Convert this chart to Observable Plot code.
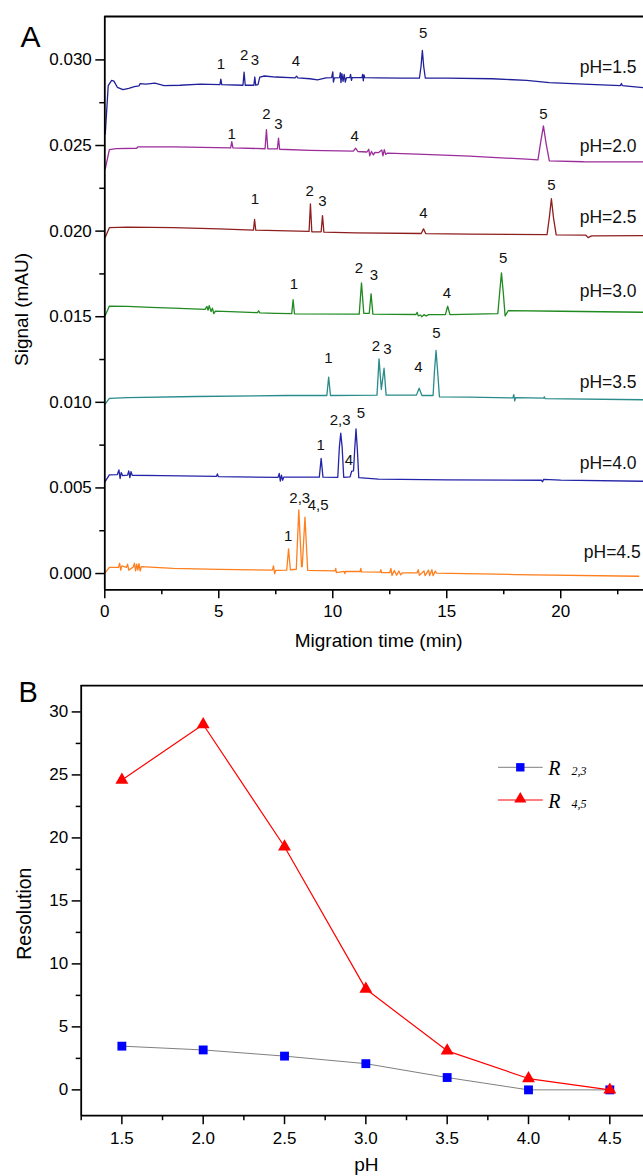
<!DOCTYPE html>
<html><head><meta charset="utf-8">
<script src="https://cdn.jsdelivr.net/npm/d3@7"></script>
<script src="https://cdn.jsdelivr.net/npm/@observablehq/plot@0.6"></script>
<style>
body{margin:0;background:#fff;}
#wrap{position:relative;width:643px;height:1176px;overflow:hidden;background:#fff;}
#wrap > svg{position:absolute;left:0;}
</style></head><body><div id="wrap"></div>
<script>
// ---------- Panel A data (migration time in min, signal in mAU) ----------
const phNames = ["pH=1.5","pH=2.0","pH=2.5","pH=3.0","pH=3.5","pH=4.0","pH=4.5"];
const traceColors = ["#20209a","#9b2d9b","#8e1f1f","#1f8a1f","#2a8b8b","#2424a8","#ff7f1e"];

const trace_pH15 = [[0.02,0.02567],[0.15,0.02850],[0.30,0.02880],[0.40,0.02876],[0.55,0.02840],[0.80,0.02826],[1.05,0.02834],[1.30,0.02844],[1.50,0.02848],[1.55,0.02862],[1.80,0.02858],[2.20,0.02864],[2.60,0.02850],[3.30,0.02852],[4.20,0.02858],[5.05,0.02856],[5.09,0.02888],[5.13,0.02856],[6.06,0.02852],[6.11,0.02928],[6.16,0.02852],[6.54,0.02852],[6.58,0.02900],[6.62,0.02852],[6.72,0.02856],[6.80,0.02900],[7.00,0.02906],[7.50,0.02900],[8.35,0.02895],[8.41,0.02905],[8.47,0.02895],[9.00,0.02890],[9.33,0.02883],[9.70,0.02895],[9.95,0.02897],[10.00,0.02930],[10.03,0.02870],[10.07,0.02895],[10.30,0.02897],[10.33,0.02925],[10.36,0.02868],[10.40,0.02920],[10.45,0.02875],[10.50,0.02915],[10.55,0.02870],[10.60,0.02897],[10.75,0.02897],[10.78,0.02915],[10.82,0.02880],[10.85,0.02897],[11.28,0.02897],[11.31,0.02915],[11.34,0.02878],[11.37,0.02912],[11.40,0.02897],[12.00,0.02895],[13.00,0.02893],[13.80,0.02893],[13.87,0.02960],[13.93,0.03055],[13.99,0.02960],[14.06,0.02893],[15.00,0.02893],[17.00,0.02890],[18.50,0.02880],[19.50,0.02867],[21.00,0.02858],[22.62,0.02850],[22.66,0.02862],[22.70,0.02850],[23.63,0.02838]];
const trace_pH20 = [[0.02,0.02364],[0.20,0.02476],[0.50,0.02482],[1.40,0.02484],[1.45,0.02492],[3.00,0.02492],[5.52,0.02486],[5.57,0.02523],[5.62,0.02486],[7.03,0.02481],[7.09,0.02592],[7.15,0.02481],[7.57,0.02480],[7.62,0.02543],[7.67,0.02478],[9.00,0.02472],[10.90,0.02467],[11.00,0.02484],[11.10,0.02465],[11.50,0.02462],[11.58,0.02478],[11.62,0.02440],[11.70,0.02465],[11.78,0.02445],[11.85,0.02460],[12.00,0.02458],[12.15,0.02474],[12.20,0.02440],[12.26,0.02476],[12.32,0.02448],[12.40,0.02456],[14.00,0.02448],[16.00,0.02438],[18.50,0.02420],[19.00,0.02416],[19.12,0.02520],[19.24,0.02615],[19.36,0.02510],[19.50,0.02410],[21.00,0.02405],[23.63,0.02404]];
const trace_pH25 = [[0.02,0.01964],[0.20,0.02020],[1.00,0.02023],[3.00,0.02020],[5.00,0.02013],[6.52,0.02006],[6.57,0.02068],[6.62,0.02006],[8.96,0.01998],[9.02,0.02159],[9.08,0.01996],[9.49,0.01996],[9.55,0.02091],[9.61,0.01994],[11.00,0.01990],[13.88,0.01986],[13.98,0.02013],[14.08,0.01985],[16.00,0.01982],[19.40,0.01980],[19.50,0.02080],[19.59,0.02189],[19.68,0.02080],[19.80,0.01978],[21.10,0.01976],[21.20,0.01962],[21.35,0.01972],[23.63,0.01974]];
const trace_pH30 = [[0.02,0.01507],[0.20,0.01562],[1.00,0.01560],[2.00,0.01555],[3.00,0.01550],[4.40,0.01543],[4.48,0.01560],[4.53,0.01538],[4.58,0.01565],[4.66,0.01530],[4.72,0.01550],[4.78,0.01518],[4.85,0.01533],[5.50,0.01530],[6.70,0.01524],[6.75,0.01535],[6.80,0.01522],[7.50,0.01520],[8.20,0.01518],[8.26,0.01599],[8.32,0.01517],[11.16,0.01515],[11.26,0.01698],[11.36,0.01520],[11.60,0.01520],[11.68,0.01634],[11.76,0.01515],[13.65,0.01513],[13.70,0.01525],[13.75,0.01505],[13.85,0.01510],[13.90,0.01500],[14.00,0.01512],[14.10,0.01504],[14.20,0.01512],[14.94,0.01512],[15.04,0.01561],[15.14,0.01512],[17.24,0.01518],[17.32,0.01640],[17.40,0.01756],[17.48,0.01640],[17.56,0.01505],[17.70,0.01536],[20.00,0.01532],[23.63,0.01526]];
const trace_pH35 = [[0.02,0.00991],[0.20,0.01023],[1.00,0.01028],[4.00,0.01034],[8.00,0.01040],[9.74,0.01040],[9.82,0.01147],[9.90,0.01040],[11.94,0.01042],[12.03,0.01254],[12.13,0.01075],[12.25,0.01199],[12.34,0.01042],[13.67,0.01042],[13.79,0.01082],[13.91,0.01040],[14.40,0.01040],[14.46,0.01180],[14.53,0.01303],[14.60,0.01180],[14.68,0.01032],[16.00,0.01030],[17.90,0.01026],[17.94,0.01045],[17.98,0.01008],[18.02,0.01028],[19.25,0.01024],[19.28,0.01032],[19.31,0.01022],[23.63,0.01015]];
const trace_pH40 = [[0.02,0.00538],[0.20,0.00576],[0.55,0.00578],[0.62,0.00605],[0.67,0.00555],[0.72,0.00590],[0.78,0.00572],[1.00,0.00575],[1.05,0.00600],[1.10,0.00560],[1.15,0.00595],[1.20,0.00574],[2.50,0.00572],[4.90,0.00568],[4.94,0.00582],[4.98,0.00566],[7.60,0.00562],[7.65,0.00585],[7.70,0.00540],[7.75,0.00575],[7.80,0.00545],[7.85,0.00563],[9.41,0.00563],[9.49,0.00673],[9.57,0.00563],[10.22,0.00562],[10.29,0.00740],[10.35,0.00820],[10.41,0.00740],[10.48,0.00562],[10.76,0.00565],[10.83,0.00598],[10.91,0.00600],[10.96,0.00720],[11.02,0.00845],[11.08,0.00720],[11.14,0.00560],[12.00,0.00552],[15.00,0.00547],[19.15,0.00545],[19.20,0.00536],[19.25,0.00550],[20.00,0.00546],[23.63,0.00539]];
const trace_pH45 = [[0.02,0.00005],[0.20,0.00036],[0.60,0.00036],[0.65,0.00060],[0.70,0.00020],[0.75,0.00045],[0.95,0.00036],[1.00,0.00055],[1.05,0.00020],[1.25,0.00038],[1.30,0.00060],[1.35,0.00015],[1.40,0.00055],[1.45,0.00020],[1.50,0.00058],[1.55,0.00015],[1.60,0.00040],[3.00,0.00030],[5.00,0.00024],[7.35,0.00020],[7.40,0.00045],[7.45,0.00000],[7.50,0.00018],[7.98,0.00020],[8.06,0.00144],[8.14,0.00022],[8.40,0.00025],[8.51,0.00372],[8.63,0.00040],[8.66,0.00040],[8.78,0.00329],[8.90,0.00018],[10.10,0.00015],[10.13,0.00030],[10.16,0.00005],[10.50,0.00012],[10.53,0.00000],[10.56,0.00012],[11.20,0.00012],[11.23,0.00030],[11.26,0.00010],[12.08,0.00008],[12.11,0.00022],[12.14,0.00005],[12.50,0.00006],[12.55,0.00030],[12.60,-0.00012],[12.70,0.00018],[12.80,-0.00010],[12.90,0.00015],[12.98,-0.00008],[13.05,0.00004],[13.70,0.00004],[13.75,0.00022],[13.80,-0.00010],[14.00,0.00015],[14.05,-0.00012],[14.20,0.00020],[14.25,-0.00012],[14.35,0.00022],[14.40,-0.00012],[14.50,0.00015],[14.55,0.00002],[18.00,-0.00006],[23.42,-0.00016]];

// peak labels: [time, signal, text]
const peaks_pH15 = [[5.09,0.02977,"1"],[6.11,0.03026,"2"],[6.58,0.03001,"3"],[8.38,0.02992,"4"],[13.96,0.03156,"5"]];
const peaks_pH20 = [[5.57,0.02568,"1"],[7.09,0.02685,"2"],[7.62,0.02623,"3"],[10.96,0.02554,"4"],[19.24,0.02685,"5"]];
const peaks_pH25 = [[6.59,0.02185,"1"],[8.99,0.02233,"2"],[9.55,0.02173,"3"],[13.98,0.02107,"4"],[19.59,0.02270,"5"]];
const peaks_pH30 = [[8.30,0.01688,"1"],[11.15,0.01786,"2"],[11.81,0.01741,"3"],[15.01,0.01637,"4"],[17.47,0.01842,"5"]];
const peaks_pH35 = [[9.81,0.01258,"1"],[11.89,0.01326,"2"],[12.40,0.01313,"3"],[13.76,0.01205,"4"],[14.55,0.01404,"5"]];
const peaks_pH40 = [[9.47,0.00748,"1"],[10.32,0.00898,"2,3"],[10.71,0.00664,"4"],[11.23,0.00939,"5"]];
const peaks_pH45 = [[8.04,0.00218,"1"],[8.55,0.00442,"2,3"],[9.36,0.00397,"4,5"]];

// pH label anchor positions [time, signal]
const phLabelPos = [[20.83,0.02957],[20.83,0.02494],[20.83,0.02078],[20.83,0.01647],[20.83,0.01117],[20.83,0.00641],[21.01,0.00121]];

const aTicksX = [0,5,10,15,20];
const aMinorX = [2.5,7.5,12.5,17.5,22.5];
const aTicksY = [0,0.005,0.010,0.015,0.020,0.025,0.030];
const aMinorY = [0.0025,0.0075,0.0125,0.0175,0.0225,0.0275];
const aDomainX = [0, 23.63];
const aDomainY = [-0.00095, 0.032535];

// ---------- Panel B data ----------
const pHs = [1.5,2.0,2.5,3.0,3.5,4.0,4.5];
const R23 = [3.47,3.17,2.68,2.08,0.98,0,0];
const R45 = [24.6,29.0,19.3,8.0,3.1,0.9,0];
const bTicksX = [1.5,2.0,2.5,3.0,3.5,4.0,4.5];
const bMinorX = [1.25,1.75,2.25,2.75,3.25,3.75,4.25];
const bTicksY = [0,5,10,15,20,25,30];
const bMinorY = [2.5,7.5,12.5,17.5,22.5,27.5];
const bDomainX = [1.25, 4.707];
const bDomainY = [-2.05, 32.09];

// ---------- build ----------
const FONT = '"Liberation Sans", Arial, sans-serif';
const traces = [trace_pH15,trace_pH20,trace_pH25,trace_pH30,trace_pH35,trace_pH40,trace_pH45];
const peakSets = [peaks_pH15,peaks_pH20,peaks_pH25,peaks_pH30,peaks_pH35,peaks_pH40,peaks_pH45];
const rowsA = traces.flatMap((tr, i) => tr.map(([t, s]) => ({t, s, pH: phNames[i]})));
const peakRows = peakSets.flatMap(ps => ps.map(([t, s, label]) => ({t, s, label})));
const phRows = phNames.map((name, i) => ({t: phLabelPos[i][0], s: phLabelPos[i][1], label: name}));

const plotA = Plot.plot({
  width: 643, height: 660,
  marginLeft: 104.3, marginRight: 0, marginTop: 16, marginBottom: 70.7,
  style: {fontFamily: FONT, fontSize: "17px", color: "#000", background: "transparent", overflow: "visible"},
  x: {domain: aDomainX},
  y: {domain: aDomainY},
  color: {domain: phNames, range: traceColors},
  marks: [
    Plot.line(rowsA, {x: "t", y: "s", z: "pH", stroke: "pH", strokeWidth: 1.3}),
    Plot.text(peakRows, {x: "t", y: "s", text: "label", fontSize: 15, fill: "#111"}),
    Plot.text(phRows, {x: "t", y: "s", text: "label", textAnchor: "start", fontSize: 17.5, fill: "#111"}),
    Plot.axisY(aTicksY, {tickSize: 9, tickPadding: 4, tickFormat: d3.format(".3f"), label: null, strokeWidth: 1.5}),
    Plot.axisY(aMinorY, {tickSize: 5, tickFormat: () => null, label: null, strokeWidth: 1.5}),
    Plot.axisX(aTicksX, {tickSize: 9, tickPadding: 6, tickFormat: d3.format("d"), label: null, strokeWidth: 1.5}),
    Plot.axisX(aMinorX, {tickSize: 5, tickFormat: () => null, label: null, strokeWidth: 1.5}),
    Plot.ruleX([aDomainX[0]], {stroke: "#000", strokeWidth: 1.8}),
    Plot.ruleY(aDomainY, {stroke: "#000", strokeWidth: 1.8}),
    Plot.text(["Migration time (min)"], {frameAnchor: "bottom", textAnchor: "middle", lineAnchor: "middle", dx: 4.5, dy: 50.7, fontSize: 19, fill: "#000"}),
    Plot.text(["Signal (mAU)"], {frameAnchor: "left", textAnchor: "middle", lineAnchor: "middle", rotate: -90, dx: -82.5, dy: 6.3, fontSize: 19, fill: "#000"}),
    Plot.text(["A"], {frameAnchor: "top-left", textAnchor: "middle", lineAnchor: "middle", dx: -74.3, dy: 21, fontSize: 30, fill: "#000"})
  ]
});

const rowsB23 = pHs.map((p, i) => ({pH: p, R: R23[i]}));
const rowsB45 = pHs.map((p, i) => ({pH: p, R: R45[i]}));

const plotB = Plot.plot({
  width: 643, height: 516,
  marginLeft: 80.7, marginRight: 0, marginTop: 25.1, marginBottom: 60.8,
  style: {fontFamily: FONT, fontSize: "17px", color: "#000", background: "transparent", overflow: "visible"},
  x: {domain: bDomainX},
  y: {domain: bDomainY},
  marks: [
    Plot.line(rowsB23, {x: "pH", y: "R", stroke: "#7f7f7f", strokeWidth: 1}),
    Plot.dot(rowsB23, {x: "pH", y: "R", symbol: "square", r: 5, fill: "#0000ff"}),
    Plot.line(rowsB45, {x: "pH", y: "R", stroke: "#ff0000", strokeWidth: 1.2}),
    Plot.dot(rowsB45, {x: "pH", y: "R", symbol: "triangle", r: 4.8, fill: "#ff0000"}),
    Plot.axisY(bTicksY, {tickSize: 9, tickPadding: 4, tickFormat: d3.format("d"), label: null, strokeWidth: 1.5}),
    Plot.axisY(bMinorY, {tickSize: 5, tickFormat: () => null, label: null, strokeWidth: 1.5}),
    Plot.axisX(bTicksX, {tickSize: 9, tickPadding: 7, tickFormat: d3.format(".1f"), label: null, strokeWidth: 1.5}),
    Plot.axisX(bMinorX, {tickSize: 5, tickFormat: () => null, label: null, strokeWidth: 1.5}),
    Plot.ruleX([bDomainX[0]], {stroke: "#000", strokeWidth: 1.8}),
    Plot.ruleY(bDomainY, {stroke: "#000", strokeWidth: 1.8}),
    Plot.text(["pH"], {frameAnchor: "bottom", textAnchor: "middle", lineAnchor: "middle", dx: 4, dy: 49.3, fontSize: 19, fill: "#000"}),
    Plot.text(["Resolution"], {frameAnchor: "left", textAnchor: "middle", lineAnchor: "middle", rotate: -90, dx: -56, dy: 13, fontSize: 19.5, fill: "#000"}),
    Plot.text(["B"], {frameAnchor: "top-left", textAnchor: "middle", lineAnchor: "middle", dx: -53, dy: 7.6, fontSize: 29, fill: "#000"})
  ]
});

const wrap = document.getElementById("wrap");
plotA.style.top = "0px";
plotB.style.top = "660px";
wrap.appendChild(plotA);
wrap.appendChild(plotB);

// legend for panel B
const legendItems = [
  {name: "R", sub: "2,3", line: "#7f7f7f", fill: "#0000ff", symbol: "square"},
  {name: "R", sub: "4,5", line: "#ff0000", fill: "#ff0000", symbol: "triangle"}
];
const NS = "http://www.w3.org/2000/svg";
const leg = document.createElementNS(NS, "svg");
leg.setAttribute("width", 150); leg.setAttribute("height", 70);
leg.style.position = "absolute"; leg.style.left = "490px"; leg.style.top = "750px";
legendItems.forEach((it, i) => {
  const cy = 17.3 + i * 32.7;
  const ln = document.createElementNS(NS, "line");
  ln.setAttribute("x1", 8); ln.setAttribute("x2", 52.7); ln.setAttribute("y1", cy); ln.setAttribute("y2", cy);
  ln.setAttribute("stroke", it.line); ln.setAttribute("stroke-width", it.symbol === "square" ? 1 : 1.2);
  leg.appendChild(ln);
  const sym = document.createElementNS(NS, "path");
  sym.setAttribute("d", d3.symbol(it.symbol === "square" ? d3.symbolSquare : d3.symbolTriangle, it.symbol === "square" ? 70 : 64)());
  sym.setAttribute("transform", `translate(30.3,${cy - (it.symbol === "square" ? 0 : 1)})`);
  sym.setAttribute("fill", it.fill);
  leg.appendChild(sym);
  const tx = document.createElementNS(NS, "text");
  tx.setAttribute("x", 58.3); tx.setAttribute("y", cy + 7.7);
  tx.setAttribute("font-family", '"Liberation Serif", "Times New Roman", serif');
  tx.setAttribute("font-style", "italic");
  tx.setAttribute("font-size", 20);
  tx.textContent = it.name;
  leg.appendChild(tx);
  const ts = document.createElementNS(NS, "text");
  ts.setAttribute("x", 81.5); ts.setAttribute("y", cy + 7.7);
  ts.setAttribute("font-family", '"Liberation Serif", "Times New Roman", serif');
  ts.setAttribute("font-style", "italic");
  ts.setAttribute("font-size", 12);
  ts.textContent = it.sub;
  leg.appendChild(ts);
});
wrap.appendChild(leg);
</script>
</body></html>
